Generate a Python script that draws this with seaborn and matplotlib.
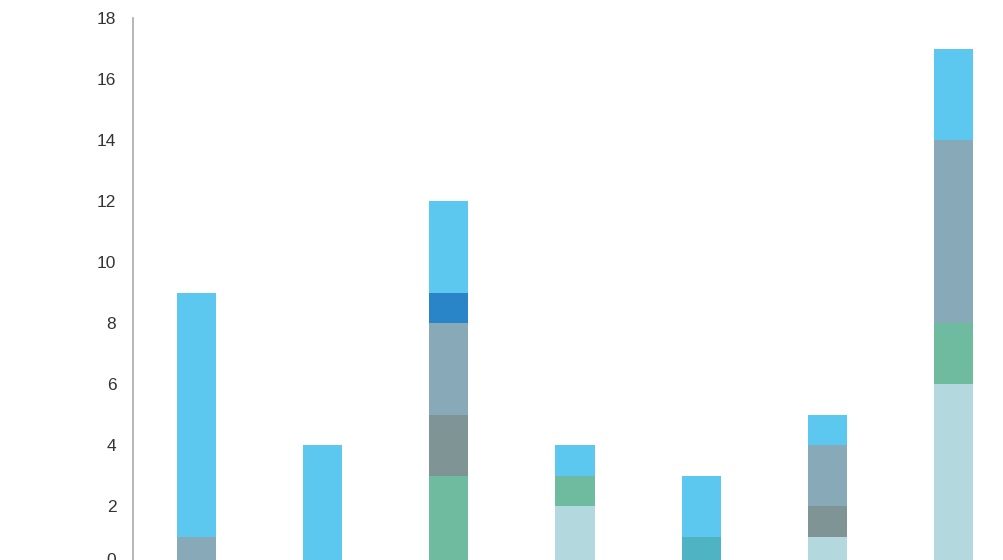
import matplotlib
matplotlib.use("Agg")
import matplotlib.pyplot as plt
import matplotlib.transforms as mtransforms
import seaborn as sns
import numpy as np

categories = ["C1", "C2", "C3", "C4", "C5", "C6", "C7"]
light_vals = [0, 0, 0, 2, 0, 1, 6]
teal_vals = [0, 0, 0, 0, 1, 0, 0]
green_vals = [0, 0, 3, 1, 0, 0, 2]
darkgrey_vals = [0, 0, 2, 0, 0, 1, 0]
greyblue_vals = [1, 0, 3, 0, 0, 2, 6]
darkblue_vals = [0, 0, 1, 0, 0, 0, 0]
sky_vals = [8, 4, 3, 1, 2, 1, 3]

series = [
    (light_vals, "#b3d8de"),
    (teal_vals, "#4fb3c4"),
    (green_vals, "#6fbb9f"),
    (darkgrey_vals, "#7f9494"),
    (greyblue_vals, "#87a9b8"),
    (darkblue_vals, "#2a85c8"),
    (sky_vals, "#5cc8f0"),
]
yticks = [0, 2, 4, 6, 8, 10, 12, 14, 16, 18]

sns.set_style("white")
plt.rcParams['font.family'] = ['Liberation Sans', 'DejaVu Sans']

fig = plt.figure(figsize=(10.04, 5.6), dpi=100)
ax = fig.add_axes([133/1004, 1 - 567/560, 884/1004, (567 - 18)/560])

bottom = np.zeros(len(categories))
for vals, col in series:
    v = np.array(vals, dtype=float)
    sns.barplot(x=categories, y=v, bottom=bottom, color=col, width=0.31,
                errorbar=None, linewidth=0, saturation=1, ax=ax)
    bottom = bottom + v

ax.set_xlim(-0.5, 6.5)
ax.set_ylim(0, 18)
ax.set_yticks(yticks)
ax.set_yticklabels([str(t) for t in yticks])
ax.tick_params(axis='y', length=0, pad=12, labelsize=12.5, labelcolor="#333333")
ax.tick_params(axis='x', length=0, labelbottom=False)
for s in ["top", "right", "bottom"]:
    ax.spines[s].set_visible(False)
ax.spines["left"].set_color("#aaaaaa")
ax.spines["left"].set_linewidth(1.2)
ax.set_xlabel("")
ax.set_ylabel("")

# nudge the "0" label up slightly, as in the reference where it is partly visible
lbl0 = ax.get_yticklabels()[0]
lbl0.set_transform(lbl0.get_transform() + mtransforms.ScaledTranslation(0, 8/100, fig.dpi_scale_trans))

fig.savefig("out.png", dpi=100)
